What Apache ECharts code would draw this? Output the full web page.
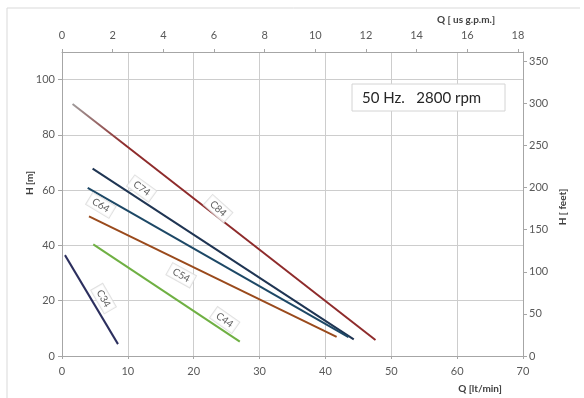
<!DOCTYPE html>
<html>
<head>
<meta charset="utf-8">
<script src="https://cdn.jsdelivr.net/npm/echarts@6/dist/echarts.min.js"></script>
<style>
html,body{margin:0;padding:0;background:#fff;}
#c{width:584px;height:398px;}
</style>
</head>
<body>
<div id="c"></div>
<script>
// ---- data ----
const pumpNames = ['C84', 'C74', 'C64', 'C54', 'C44', 'C34'];
// flow Q [lt/min] at curve start / end
const c84Q = [1.6, 47.6];
const c74Q = [4.65, 44.3];
const c64Q = [3.9, 43.5];
const c54Q = [4.1, 41.7];
const c44Q = [4.75, 27.0];
const c34Q = [0.45, 8.5];
// head H [m] at curve start / end
const c84H = [91.2, 5.8];
const c74H = [67.8, 6.0];
const c64H = [60.8, 6.8];
const c54H = [50.5, 6.9];
const c44H = [40.4, 5.2];
const c34H = [36.5, 4.3];
// curve-label anchors (Q, H) and tilt
const labelQ = [23.7, 12.1, 5.9, 18.1, 24.7, 6.3];
const labelH = [53.3, 60.6, 54.5, 29.2, 13.0, 20.8];
const labelTilt = [-42, -36, -31, -29, -35, -60];
// axis ticks
const lpmTicks = [0, 10, 20, 30, 40, 50, 60, 70];
const gpmTicks = [0, 2, 4, 6, 8, 10, 12, 14, 16, 18];
const headMTicks = [0, 20, 40, 60, 80, 100];
const headFtTicks = [0, 50, 100, 150, 200, 250, 300, 350];
const infoText = '50 Hz.   2800 rpm';

const colors = ['#8e2b2b', '#1f3553', '#1d4866', '#9a4a1c', '#6fb043', '#2c2f5e'];
const Qs = [c84Q, c74Q, c64Q, c54Q, c44Q, c34Q];
const Hs = [c84H, c74H, c64H, c54H, c44H, c34H];

const FONT = 'Lato, "Open Sans", sans-serif';
const axisTxt = '#595959';
const axisLineC = '#a6a6a6';
const gridC = '#cdcdcd';

const chart = echarts.init(document.getElementById('c'), null, {renderer: 'canvas'});

const lineSeries = pumpNames.map((n, i) => {
  const color = i === 0 ? new echarts.graphic.LinearGradient(0, 0, 1, 0, [
    {offset: 0, color: '#a0a0a0'},
    {offset: 0.18, color: colors[0]},
    {offset: 1, color: colors[0]}
  ]) : colors[i];
  return {
    type: 'line',
    name: n,
    xAxisIndex: 0,
    yAxisIndex: 0,
    showSymbol: false,
    symbol: 'none',
    silent: true,
    lineStyle: {width: 2, color: color},
    data: Qs[i].map((q, k) => [q, Hs[i][k]])
  };
});

const labelSeries = {
  type: 'scatter',
  xAxisIndex: 0,
  yAxisIndex: 0,
  symbolSize: 1,
  silent: true,
  z: 5,
  itemStyle: {color: 'rgba(0,0,0,0)'},
  data: pumpNames.map((n, i) => ({
    name: n,
    value: [labelQ[i], labelH[i]],
    label: {rotate: labelTilt[i]}
  })),
  label: {
    show: true,
    position: 'inside',
    formatter: p => p.name,
    color: '#333',
    fontFamily: FONT,
    fontSize: 10,
    backgroundColor: '#fff',
    borderColor: '#d9d9d9',
    borderWidth: 1,
    padding: [2, 4, 1, 4]
  }
};

const option = {
  animation: false,
  backgroundColor: '#fff',
  textStyle: {fontFamily: FONT},
  grid: {left: 62, right: 61, top: 52, bottom: 42},
  xAxis: [
    {
      type: 'value', position: 'bottom', min: lpmTicks[0], max: lpmTicks[lpmTicks.length - 1], interval: 10,
      axisLine: {show: true, lineStyle: {color: axisLineC}},
      axisTick: {show: true, length: 3, lineStyle: {color: axisLineC}},
      axisLabel: {color: axisTxt, fontSize: 11, fontFamily: FONT, margin: 10},
      splitLine: {show: true, lineStyle: {color: gridC, width: 1}}
    },
    {
      type: 'value', position: 'top', min: 0, max: 18.2, interval: 2,
      axisLine: {show: true, onZero: false, lineStyle: {color: axisLineC}},
      axisTick: {show: true, length: 3, lineStyle: {color: axisLineC}},
      axisLabel: {color: axisTxt, fontSize: 11, fontFamily: FONT, margin: 11, showMaxLabel: false,
        formatter: v => gpmTicks.includes(v) ? String(v) : ''},
      splitLine: {show: false}
    }
  ],
  yAxis: [
    {
      type: 'value', position: 'left', min: 0, max: 110, interval: 20,
      axisLine: {show: true, lineStyle: {color: axisLineC}},
      axisTick: {show: true, length: 4, lineStyle: {color: axisLineC}},
      axisLabel: {color: axisTxt, fontSize: 11, fontFamily: FONT, margin: 7, showMaxLabel: false,
        formatter: v => headMTicks.includes(v) ? String(v) : ''},
      splitLine: {show: true, lineStyle: {color: gridC, width: 1}}
    },
    {
      type: 'value', position: 'right', min: 0, max: 110 * 3.28084, interval: 50,
      axisLine: {show: true, onZero: false, lineStyle: {color: axisLineC}},
      axisTick: {show: true, length: 4, lineStyle: {color: axisLineC}},
      axisLabel: {color: axisTxt, fontSize: 11, fontFamily: FONT, margin: 6, showMaxLabel: false,
        formatter: v => headFtTicks.includes(v) ? String(v) : ''},
      splitLine: {show: false}
    }
  ],
  series: lineSeries.concat([labelSeries]),
  graphic: [
    {type: 'line', shape: {x1: 7, y1: 8, x2: 580, y2: 8}, style: {stroke: '#d9d9d9', lineWidth: 1}, silent: true},
    {type: 'line', shape: {x1: 7, y1: 8, x2: 7, y2: 398}, style: {stroke: '#d9d9d9', lineWidth: 1}, silent: true},
    {type: 'text', x: 30, y: 183, rotation: Math.PI / 2,
      style: {text: 'H [m]', fill: '#404040', font: 'bold 10px ' + FONT, textAlign: 'center', textVerticalAlign: 'middle'}},
    {type: 'text', x: 563, y: 207, rotation: Math.PI / 2,
      style: {text: 'H [ feet]', fill: '#404040', font: 'bold 10px ' + FONT, textAlign: 'center', textVerticalAlign: 'middle'}},
    {type: 'text', x: 480, y: 389,
      style: {text: 'Q [lt/min]', fill: '#404040', font: 'bold 10px ' + FONT, textAlign: 'center', textVerticalAlign: 'middle'}},
    {type: 'text', x: 466, y: 20,
      style: {text: 'Q [ us g.p.m.]', fill: '#404040', font: 'bold 10px ' + FONT, textAlign: 'center', textVerticalAlign: 'middle'}},
    {type: 'rect', shape: {x: 352, y: 84, width: 153, height: 27},
      style: {fill: '#fff', stroke: '#d4d4d4', lineWidth: 1}, z: 10},
    {type: 'text', x: 362, y: 98, z: 11,
      style: {text: infoText, fill: '#262626', font: '15px ' + FONT, textAlign: 'left', textVerticalAlign: 'middle'}}
  ]
};

chart.setOption(option);
</script>
</body>
</html>
